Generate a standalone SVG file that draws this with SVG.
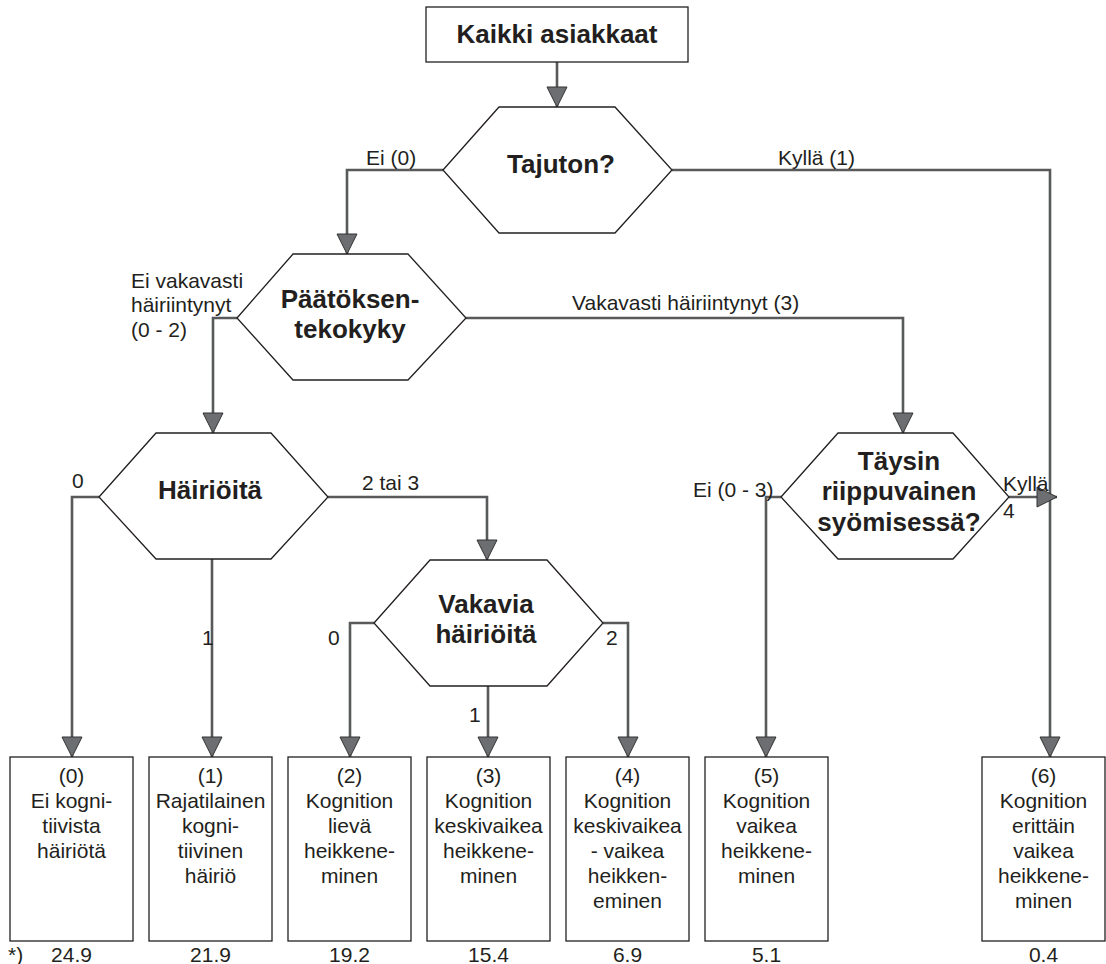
<svg xmlns="http://www.w3.org/2000/svg" width="1106" height="964" viewBox="0 0 1106 964">
<defs>
<marker id="arr" viewBox="0 0 22 22" markerWidth="22" markerHeight="22" refX="21" refY="11" orient="auto" markerUnits="userSpaceOnUse">
<path d="M1,1 L21,11 L1,21 Z" fill="#6d6e71" stroke="#333" stroke-width="1"/>
</marker>
<style>
.shape{fill:#fff;stroke:#231f20;stroke-width:1.3}
.conn{fill:none;stroke:#58595b;stroke-width:2.6;marker-end:url(#arr)}
text{font-family:"Liberation Sans",Arial,sans-serif;fill:#231f20}
.b{font-weight:bold;font-size:26px;text-anchor:middle}
.r{font-size:21px}
.c{font-size:21px;text-anchor:middle}
</style>
</defs>
<rect width="1106" height="964" fill="#fff"/>
<g id="connectors">
<path class="conn" d="M557,62 V107"/>
<path class="conn" d="M443,170 H347 V254"/>
<path class="conn" d="M672,170 H1050 V757"/>
<path class="conn" d="M237,318 H213 V433"/>
<path class="conn" d="M466,318 H903 V433"/>
<path class="conn" d="M99,497 H72 V757"/>
<path class="conn" d="M212,559 V757"/>
<path class="conn" d="M328,497 H487 V560"/>
<path class="conn" d="M374,623 H350 V757"/>
<path class="conn" d="M488,686 V757"/>
<path class="conn" d="M603,623 H628 V757"/>
<path class="conn" d="M781,497 H766 V757"/>
<path class="conn" d="M1009,497 H1057"/>
</g>
<g id="labels">
<text class="r" x="366" y="165">Ei (0)</text>
<text class="r" x="778" y="165">Kyllä (1)</text>
<text class="r" x="131" y="288">Ei vakavasti</text>
<text class="r" x="131" y="312">häiriintynyt</text>
<text class="r" x="131" y="337">(0 - 2)</text>
<text class="r" x="572" y="310">Vakavasti häiriintynyt (3)</text>
<text class="r" x="72" y="488">0</text>
<text class="r" x="362" y="490">2 tai 3</text>
<text class="r" x="202" y="645">1</text>
<text class="r" x="328" y="645">0</text>
<text class="r" x="606" y="645">2</text>
<text class="r" x="469" y="722">1</text>
<text class="r" x="693" y="497">Ei (0 - 3)</text>
<text class="r" x="1003" y="491">Kyllä</text>
<text class="r" x="1003" y="518">4</text>
<text class="r" x="8" y="962">*)</text>
</g>
<g id="n-kaikki">
<rect class="shape" x="426" y="7" width="262" height="55"/>
<text class="b" x="557" y="43">Kaikki asiakkaat</text>
</g>
<g id="n-tajuton">
<polygon class="shape" points="443,170 499,107 615,107 672,170 615,233 499,233"/>
<text class="b" x="561" y="173">Tajuton?</text>
</g>
<g id="n-paatoksen">
<polygon class="shape" points="237,318 293,254 408,254 466,318 408,380 293,380"/>
<text class="b" x="350" y="308">Päätöksen-</text>
<text class="b" x="350" y="338">tekokyky</text>
</g>
<g id="n-hairioita">
<polygon class="shape" points="99,497 156,433 271,433 328,497 271,559 156,559"/>
<text class="b" x="210" y="499">Häiriöitä</text>
</g>
<g id="n-vakavia">
<polygon class="shape" points="374,623 430,560 547,560 603,623 547,686 430,686"/>
<text class="b" x="486" y="613">Vakavia</text>
<text class="b" x="486" y="643">häiriöitä</text>
</g>
<g id="n-taysin">
<polygon class="shape" points="781,497 838,433 953,433 1009,497 953,559 838,559"/>
<text class="b" x="899" y="470">Täysin</text>
<text class="b" x="899" y="500">riippuvainen</text>
<text class="b" x="899" y="531">syömisessä?</text>
</g>
<g id="n-0">
<rect class="shape" x="10" y="757" width="123" height="184"/>
<text class="c" x="71.5" y="783">(0)</text>
<text class="c" x="71.5" y="808">Ei kogni-</text>
<text class="c" x="71.5" y="833">tiivista</text>
<text class="c" x="71.5" y="858">häiriötä</text>
<text class="c" x="71.5" y="962">24.9</text>
</g>
<g id="n-1">
<rect class="shape" x="149" y="757" width="123" height="184"/>
<text class="c" x="210.5" y="783">(1)</text>
<text class="c" x="210.5" y="808">Rajatilainen</text>
<text class="c" x="210.5" y="833">kogni-</text>
<text class="c" x="210.5" y="858">tiivinen</text>
<text class="c" x="210.5" y="883">häiriö</text>
<text class="c" x="210.5" y="962">21.9</text>
</g>
<g id="n-2">
<rect class="shape" x="288" y="757" width="123" height="184"/>
<text class="c" x="349.5" y="783">(2)</text>
<text class="c" x="349.5" y="808">Kognition</text>
<text class="c" x="349.5" y="833">lievä</text>
<text class="c" x="349.5" y="858">heikkene-</text>
<text class="c" x="349.5" y="883">minen</text>
<text class="c" x="349.5" y="962">19.2</text>
</g>
<g id="n-3">
<rect class="shape" x="427" y="757" width="123" height="184"/>
<text class="c" x="488.5" y="783">(3)</text>
<text class="c" x="488.5" y="808">Kognition</text>
<text class="c" x="488.5" y="833">keskivaikea</text>
<text class="c" x="488.5" y="858">heikkene-</text>
<text class="c" x="488.5" y="883">minen</text>
<text class="c" x="488.5" y="962">15.4</text>
</g>
<g id="n-4">
<rect class="shape" x="566" y="757" width="123" height="184"/>
<text class="c" x="627.5" y="783">(4)</text>
<text class="c" x="627.5" y="808">Kognition</text>
<text class="c" x="627.5" y="833">keskivaikea</text>
<text class="c" x="627.5" y="858">- vaikea</text>
<text class="c" x="627.5" y="883">heikken-</text>
<text class="c" x="627.5" y="908">eminen</text>
<text class="c" x="627.5" y="962">6.9</text>
</g>
<g id="n-5">
<rect class="shape" x="705" y="757" width="123" height="184"/>
<text class="c" x="766.5" y="783">(5)</text>
<text class="c" x="766.5" y="808">Kognition</text>
<text class="c" x="766.5" y="833">vaikea</text>
<text class="c" x="766.5" y="858">heikkene-</text>
<text class="c" x="766.5" y="883">minen</text>
<text class="c" x="766.5" y="962">5.1</text>
</g>
<g id="n-6">
<rect class="shape" x="982" y="757" width="123" height="184"/>
<text class="c" x="1043.5" y="783">(6)</text>
<text class="c" x="1043.5" y="808">Kognition</text>
<text class="c" x="1043.5" y="833">erittäin</text>
<text class="c" x="1043.5" y="858">vaikea</text>
<text class="c" x="1043.5" y="883">heikkene-</text>
<text class="c" x="1043.5" y="908">minen</text>
<text class="c" x="1043.5" y="962">0.4</text>
</g>
</svg>
